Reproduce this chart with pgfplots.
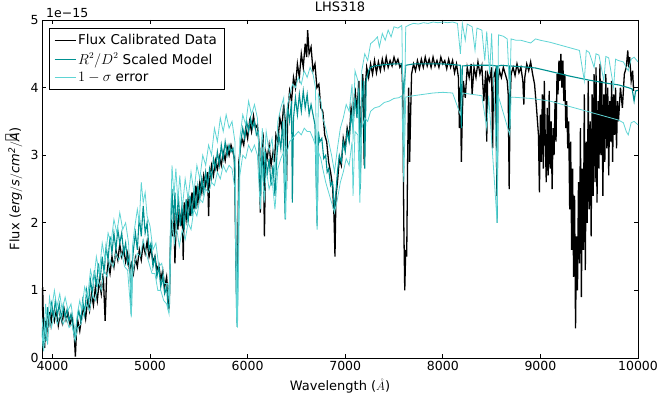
\documentclass[border=0pt]{standalone}
\usepackage{pgfplots}
\pgfplotsset{compat=1.18}
\usepackage{fontspec}
\setmainfont{DejaVu Sans}
\definecolor{modelc}{RGB}{0,145,145}
\definecolor{errc}{RGB}{95,212,212}
\begin{document}
\begin{tikzpicture}[font=\fontsize{13}{15}\selectfont]
\begin{axis}[name=ax, scale only axis, width=596pt, height=338pt,
 xmin=3893, xmax=10000, ymin=0, ymax=5,
 xtick={4000,5000,6000,7000,8000,9000,10000}, ytick={0,1,2,3,4,5},
 scaled x ticks=false, scaled y ticks=false,
 /pgf/number format/assume math mode=true, /pgf/number format/1000 sep={},
 tick label style={font=\fontsize{12.5}{14}\selectfont},
 tick align=inside, major tick length=4pt,
 axis line style={line width=0.8pt}, every tick/.style={black, line width=0.8pt},
 title={LHS318}, title style={at={(axis description cs:0.5,1)}, anchor=south, inner sep=2pt},
 xlabel={Wavelength ($\mathring{A}$)},
 xlabel style={at={(axis description cs:0.5,-0.083)}, anchor=center},
 ylabel={Flux ($\mathit{erg/s/cm^2/\mathring{A}}$)},
 ylabel style={at={(axis description cs:-0.047,0.5)}, anchor=center},
 legend style={at={(axis description cs:0.0117,0.976)}, anchor=north west, draw=black, fill=white,
   font=\fontsize{13.5}{15}\selectfont, row sep=3pt, inner xsep=5pt, inner ysep=4pt, cells={anchor=west}},
 legend image code/.code={\draw[#1, line width=1pt] (0pt,0pt) -- (21pt,0pt);},
]
% Flux calibrated data
\addplot[black, line width=1.3pt] coordinates {
(3893,0.70)(3900,1.05)(3910,0.35)(3920,0.15)(3930,0.55)(3940,0.30)(3950,0.62)(3960,0.45)(3970,0.68)(3985,0.50)
(4000,0.72)(4020,0.55)(4040,0.70)(4060,0.48)(4080,0.66)(4100,0.52)(4120,0.72)(4140,0.56)(4160,0.66)(4180,0.50)
(4200,0.62)(4215,0.45)(4225,0.30)(4235,0.02)(4245,0.35)(4260,0.55)(4280,0.40)(4300,0.62)(4320,0.75)(4340,0.58)
(4360,0.85)(4380,0.70)(4400,0.95)(4420,0.78)(4440,1.05)(4460,0.85)(4480,1.15)(4500,0.95)(4520,1.25)(4540,0.55)
(4555,1.20)(4570,1.40)(4590,1.25)(4610,1.50)(4630,1.35)(4650,1.60)(4670,1.45)(4690,1.68)(4710,1.50)(4730,1.62)
(4750,1.42)(4770,1.55)(4790,1.30)(4810,1.40)(4830,1.25)(4850,1.48)(4870,1.35)(4890,1.60)(4910,1.45)(4930,1.70)
(4950,1.55)(4970,1.72)(4990,1.50)(5010,1.62)(5030,1.42)(5050,1.50)(5070,1.30)(5090,1.38)(5110,1.15)(5130,1.30)
(5150,1.05)(5170,1.20)(5185,0.95)(5195,0.72)(5205,1.40)(5215,2.05)(5230,1.80)(5245,2.15)(5255,1.40)(5270,2.10)
(5285,1.90)(5300,2.20)(5315,1.95)(5330,2.25)(5340,1.45)(5350,2.30)(5370,2.05)(5390,2.35)(5410,2.10)(5430,2.45)
(5450,2.20)(5470,2.55)(5490,2.30)(5510,2.60)(5530,2.45)(5550,2.70)(5570,2.55)(5590,2.75)(5600,2.10)(5610,2.62)
(5630,2.85)(5650,2.70)(5670,2.92)(5690,2.78)(5710,2.98)(5730,2.85)(5750,3.05)(5770,2.92)(5790,3.12)(5810,3.00)
(5830,3.15)(5850,3.05)(5865,2.95)(5880,1.50)(5890,0.80)(5898,1.40)(5910,2.90)(5925,3.10)(5940,3.25)(5960,3.15)
(5980,3.40)(6000,3.25)(6020,3.50)(6040,3.35)(6060,3.58)(6080,3.40)(6100,3.45)(6115,3.20)(6130,2.15)(6140,3.10)
(6160,3.25)(6172,1.80)(6185,3.05)(6200,2.95)(6220,3.15)(6240,2.85)(6260,3.05)(6275,2.90)(6290,3.30)(6310,3.20)
(6330,3.55)(6350,3.40)(6370,3.75)(6385,3.50)(6398,2.50)(6410,3.60)(6430,3.95)(6450,3.80)(6470,4.15)(6490,4.00)
(6510,4.35)(6530,4.15)(6550,4.50)(6570,4.30)(6590,4.65)(6605,4.45)(6615,4.85)(6630,4.50)(6650,4.60)(6670,4.25)
(6690,4.35)(6710,4.00)(6730,4.05)(6750,3.70)(6770,3.65)(6790,3.30)(6810,3.20)(6830,2.90)(6850,2.75)(6870,2.55)
(6885,2.10)(6895,1.50)(6905,2.40)(6920,2.60)(6940,2.95)(6960,2.85)(6980,3.25)(7000,3.10)(7020,3.40)(7040,3.25)
(7060,3.70)(7080,3.50)(7100,4.00)(7120,3.65)(7140,4.10)(7155,2.90)(7165,3.70)(7180,4.20)(7195,2.85)(7205,4.00)
(7220,4.30)(7240,4.15)(7260,4.35)(7280,4.20)(7300,4.40)(7320,4.22)(7340,4.38)(7360,4.25)(7380,4.42)(7400,4.28)
(7420,4.45)(7440,4.30)(7460,4.40)(7480,4.32)(7500,4.45)(7520,4.35)(7540,4.42)(7560,4.30)(7580,4.35)(7590,3.90)
(7600,2.00)(7610,1.00)(7620,1.60)(7630,1.50)(7640,3.00)(7650,4.00)(7660,2.90)(7670,3.60)(7680,4.20)(7700,4.35)
(7720,4.25)(7740,4.40)(7760,4.28)(7780,4.42)(7800,4.30)(7820,4.45)(7840,4.32)(7860,4.42)(7880,4.30)(7900,4.45)
(7920,4.32)(7940,4.40)(7960,4.30)(7980,4.45)(8000,4.35)(8020,4.40)(8040,4.28)(8060,4.42)(8080,4.30)(8100,4.40)
(8120,4.22)(8140,4.35)(8160,4.15)(8170,3.40)(8180,4.00)(8190,2.90)(8200,3.60)(8210,4.10)(8230,3.85)(8250,4.30)
(8270,4.15)(8290,4.35)(8300,3.90)(8320,4.30)(8340,4.15)(8360,4.38)(8380,4.20)(8400,4.32)(8420,3.80)(8440,4.25)
(8450,3.20)(8460,4.20)(8480,4.10)(8500,4.30)(8510,3.10)(8520,4.15)(8540,4.25)(8555,2.40)(8565,4.10)(8580,4.25)
(8600,4.15)(8620,4.30)(8640,4.20)(8660,4.10)(8670,3.90)(8680,2.50)(8690,3.80)(8700,4.20)(8720,4.30)(8740,4.18)
(8760,4.35)(8780,4.22)(8800,4.30)(8820,4.10)(8830,3.75)(8840,4.15)(8860,4.35)(8880,4.25)(8900,4.38)(8920,4.20)
(8940,4.05)(8960,3.70)(8980,3.30)(8990,2.45)(9000,3.60)(9010,2.90)(9020,3.90)(9030,2.80)(9040,4.10)(9050,3.20)
(9060,2.60)(9070,3.70)(9080,2.70)(9090,3.95)(9100,2.80)(9110,3.50)(9120,2.50)(9130,3.40)(9140,3.00)(9150,3.80)
(9160,3.20)(9170,4.20)(9180,3.90)(9190,4.40)(9200,4.10)(9210,4.50)(9220,4.00)(9230,4.40)(9240,3.80)(9250,4.20)
(9260,3.40)(9270,3.80)(9280,3.10)(9290,3.50)(9300,2.20)(9310,3.20)(9320,1.60)(9330,2.80)(9340,1.20)(9350,2.40)
(9360,0.44)(9370,1.80)(9380,1.00)(9390,2.60)(9400,1.40)(9410,3.40)(9420,0.90)(9430,2.80)(9440,1.60)(9450,3.90)
(9460,1.30)(9470,3.20)(9480,2.00)(9490,4.10)(9500,2.20)(9510,3.50)(9520,1.80)(9530,3.90)(9540,2.40)(9550,4.20)
(9560,2.60)(9570,4.30)(9580,2.30)(9590,3.80)(9600,2.80)(9610,4.35)(9620,3.00)(9630,4.10)(9640,2.40)(9650,3.90)
(9660,2.90)(9670,4.20)(9680,3.10)(9690,4.00)(9700,2.70)(9710,3.80)(9720,3.20)(9730,4.10)(9740,2.90)(9750,3.90)
(9760,3.30)(9770,4.00)(9780,3.10)(9790,3.80)(9800,3.50)(9820,4.00)(9840,3.70)(9860,4.20)(9880,4.30)(9895,4.55)
(9905,4.30)(9915,4.45)(9930,4.10)(9945,4.25)(9955,3.95)
};
% scaled model
\addplot[modelc, line width=1.1pt] coordinates {
(3893,0.45)(3905,0.15)(3920,0.60)(3935,0.25)(3950,0.75)(3970,0.55)(3990,0.80)(4010,0.60)(4030,0.85)(4050,0.62)
(4070,0.80)(4090,0.58)(4110,0.78)(4130,0.60)(4150,0.72)(4170,0.55)(4190,0.65)(4210,0.45)(4232,0.30)(4250,0.55)
(4270,0.70)(4290,0.55)(4310,0.85)(4330,0.65)(4350,1.00)(4370,0.80)(4390,1.15)(4410,0.95)(4430,1.30)(4450,1.05)
(4470,1.40)(4490,1.15)(4510,1.50)(4530,1.25)(4550,1.65)(4570,1.45)(4590,1.80)(4610,1.55)(4630,1.85)(4650,1.60)
(4670,1.90)(4690,1.70)(4710,1.85)(4730,1.55)(4750,1.70)(4770,1.40)(4790,1.50)(4808,0.65)(4818,1.40)(4830,1.60)
(4850,1.85)(4870,1.60)(4890,2.10)(4910,1.80)(4930,2.25)(4950,1.85)(4970,2.00)(4990,1.60)(5010,1.70)(5030,1.35)
(5050,1.50)(5070,1.20)(5090,1.35)(5110,1.05)(5130,1.20)(5150,0.95)(5170,1.05)(5185,0.75)(5200,0.80)(5210,1.80)
(5225,2.50)(5240,2.00)(5255,2.45)(5270,1.90)(5290,2.40)(5310,1.95)(5330,2.30)(5350,1.90)(5370,2.35)(5390,2.00)
(5410,2.40)(5430,2.10)(5450,2.50)(5470,2.20)(5490,2.55)(5510,2.35)(5530,2.65)(5550,2.45)(5570,2.75)(5590,2.55)
(5610,2.80)(5630,2.65)(5650,2.95)(5670,2.80)(5690,3.05)(5710,2.85)(5730,3.15)(5750,2.95)(5770,3.20)(5790,3.00)
(5810,3.15)(5830,3.05)(5850,3.10)(5870,2.80)(5885,0.80)(5893,0.46)(5900,1.50)(5915,2.90)(5930,3.20)(5950,3.40)
(5970,3.25)(5990,3.50)(6010,3.35)(6030,3.55)(6050,3.40)(6070,3.50)(6090,3.30)(6110,3.35)(6130,2.40)(6145,3.10)
(6165,2.60)(6180,3.05)(6200,2.70)(6220,2.95)(6240,2.55)(6260,2.85)(6280,2.40)(6300,3.00)(6320,3.30)(6340,3.10)
(6360,3.50)(6385,2.05)(6395,3.40)(6410,3.70)(6430,3.50)(6450,3.80)(6458,2.30)(6470,3.55)(6490,3.85)(6510,3.60)
(6530,3.90)(6550,3.65)(6570,3.95)(6590,3.70)(6610,3.90)(6630,3.60)(6650,3.75)(6670,3.60)(6690,3.45)(6712,1.95)
(6725,3.35)(6740,3.20)(6760,3.25)(6780,2.95)(6800,3.00)(6815,2.75)(6830,2.80)(6850,2.55)(6870,2.60)(6890,2.20)
(6905,2.45)(6920,2.75)(6940,3.00)(6960,2.90)(6980,3.20)(7000,3.05)(7020,3.35)(7040,3.20)(7060,3.60)(7080,3.40)
(7100,3.85)(7120,3.55)(7140,4.00)(7155,2.50)(7170,3.80)(7190,4.10)(7200,2.80)(7215,4.10)(7240,4.25)(7260,4.30)
(7300,4.32)(7400,4.34)(7500,4.35)(7580,4.35)(7600,3.90)(7620,4.33)(7700,4.35)(7800,4.35)(7900,4.35)(8000,4.35)
(8100,4.34)(8180,4.33)(8190,3.40)(8200,4.32)(8300,4.33)(8400,4.33)(8500,4.33)(8550,4.32)(8557,2.00)(8565,4.32)
(8600,4.33)(8680,4.32)(8686,3.40)(8692,4.32)(8800,4.31)(8950,4.29)(9100,4.24)(9300,4.17)(9500,4.11)(9700,4.06)
(9800,4.04)(9900,4.00)(9940,3.98)(9960,3.80)(9975,3.95)(10000,3.96)
};
% upper 1-sigma
\addplot[errc, line width=0.8pt] coordinates {
(3893,0.60)(3910,0.25)(3930,0.80)(3950,0.45)(3970,0.90)(3990,0.70)(4020,1.00)(4045,0.75)(4075,0.95)(4100,0.70)
(4130,0.90)(4160,0.70)(4190,0.80)(4215,0.55)(4235,0.35)(4255,0.65)(4280,0.85)(4300,0.70)(4330,1.05)(4360,0.90)
(4390,1.30)(4420,1.10)(4450,1.50)(4480,1.25)(4510,1.70)(4540,1.45)(4570,1.85)(4600,1.70)(4630,2.05)(4660,1.85)
(4690,2.15)(4720,1.90)(4750,2.00)(4780,1.70)(4808,0.80)(4820,1.65)(4840,1.90)(4870,2.20)(4890,2.00)(4910,2.60)
(4930,2.30)(4950,2.45)(4970,2.10)(5000,1.95)(5030,1.60)(5060,1.70)(5090,1.35)(5120,1.40)(5150,1.10)(5180,1.10)
(5195,0.85)(5210,2.00)(5225,2.85)(5245,2.40)(5265,2.80)(5285,2.30)(5305,2.70)(5330,2.20)(5360,2.65)(5390,2.35)
(5420,2.75)(5450,2.45)(5480,2.85)(5510,2.65)(5540,3.00)(5570,2.85)(5600,3.15)(5630,3.00)(5660,3.40)(5690,3.20)
(5720,3.55)(5750,3.35)(5780,3.60)(5810,3.40)(5840,3.50)(5870,3.20)(5888,0.90)(5896,0.60)(5905,2.00)(5920,3.25)
(5950,3.60)(5980,3.45)(6010,3.80)(6040,3.60)(6070,3.75)(6100,3.55)(6130,2.70)(6150,3.40)(6170,2.90)(6190,3.35)
(6220,3.05)(6250,3.25)(6280,2.70)(6310,3.50)(6340,3.70)(6370,3.85)(6390,2.60)(6405,3.70)(6430,3.90)(6460,4.05)
(6490,4.00)(6520,4.15)(6550,4.05)(6580,4.25)(6610,4.15)(6640,4.30)(6670,4.20)(6695,4.00)(6712,2.40)(6725,3.90)
(6750,3.80)(6770,3.55)(6800,3.40)(6830,3.20)(6860,3.00)(6890,2.75)(6920,3.10)(6950,3.40)(6980,3.55)(7010,3.75)
(7040,3.65)(7070,4.05)(7080,3.20)(7100,4.25)(7130,4.10)(7150,2.60)(7170,4.25)(7200,4.50)(7230,4.40)(7260,4.65)
(7300,4.70)(7330,4.75)(7350,4.60)(7380,4.80)(7410,4.70)(7440,4.85)(7470,4.75)(7500,4.90)(7540,4.88)(7580,4.92)
(7600,3.00)(7620,4.90)(7660,4.93)(7700,4.95)(7750,4.94)(7800,4.96)(7850,4.95)(7900,4.97)(7950,4.96)(8000,4.97)
(8050,4.96)(8100,4.97)(8150,4.95)(8180,4.50)(8200,4.95)(8230,4.70)(8250,4.94)(8300,4.90)(8330,4.55)(8350,4.88)
(8400,4.85)(8430,4.40)(8450,4.83)(8480,4.20)(8500,4.80)(8557,2.70)(8570,4.78)(8620,4.76)(8660,4.72)(8686,3.90)
(8700,4.72)(8750,4.70)(8800,4.70)(8850,4.68)(8900,4.66)(8950,4.72)(9000,4.70)(9100,4.67)(9200,4.63)(9300,4.59)
(9400,4.55)(9450,4.10)(9470,4.55)(9500,4.52)(9550,4.30)(9570,4.50)(9600,4.48)(9650,4.10)(9670,4.46)(9700,4.44)
(9750,4.00)(9770,4.42)(9800,4.40)(9850,4.38)(9880,4.30)(9900,4.25)(9930,4.42)(9960,4.45)(10000,4.38)
};
% lower 1-sigma
\addplot[errc, line width=0.8pt, forget plot] coordinates {
(3893,0.35)(3910,0.10)(3930,0.45)(3950,0.20)(3970,0.60)(3990,0.45)(4020,0.65)(4050,0.50)(4080,0.65)(4110,0.50)
(4140,0.60)(4170,0.45)(4200,0.50)(4232,0.25)(4260,0.45)(4290,0.50)(4320,0.65)(4350,0.80)(4380,0.70)(4410,0.95)
(4440,0.85)(4470,1.15)(4500,1.00)(4530,1.30)(4560,1.20)(4590,1.45)(4620,1.35)(4650,1.55)(4680,1.45)(4710,1.55)
(4740,1.35)(4770,1.30)(4808,0.60)(4820,1.20)(4840,1.40)(4870,1.55)(4900,1.50)(4930,1.75)(4960,1.55)(4990,1.40)
(5020,1.25)(5050,1.25)(5080,1.00)(5110,1.00)(5140,0.85)(5170,0.80)(5195,0.65)(5210,1.50)(5230,2.00)(5250,1.70)
(5270,1.95)(5300,1.65)(5330,1.90)(5360,1.75)(5390,2.00)(5420,1.90)(5450,2.20)(5480,2.10)(5510,2.35)(5540,2.30)
(5570,2.50)(5600,2.45)(5630,2.60)(5660,2.55)(5690,2.75)(5720,2.65)(5750,2.85)(5780,2.75)(5810,2.85)(5840,2.80)
(5870,2.50)(5888,0.55)(5896,0.45)(5905,1.20)(5920,2.70)(5950,3.00)(5980,2.95)(6010,3.15)(6040,3.05)(6070,3.15)
(6100,3.00)(6130,2.20)(6150,2.85)(6170,2.30)(6190,2.80)(6220,2.50)(6250,2.65)(6280,2.20)(6310,2.80)(6340,2.95)
(6370,3.05)(6390,2.05)(6405,3.05)(6430,3.20)(6460,3.25)(6490,3.30)(6520,3.35)(6550,3.30)(6580,3.40)(6610,3.35)
(6640,3.35)(6670,3.25)(6695,3.15)(6712,1.90)(6725,3.05)(6750,2.95)(6770,2.80)(6800,2.60)(6830,2.45)(6860,2.30)
(6890,2.15)(6920,2.35)(6950,2.60)(6980,2.75)(7010,2.95)(7040,2.85)(7070,3.20)(7080,2.40)(7100,3.35)(7130,3.30)
(7150,2.30)(7170,3.40)(7200,3.55)(7230,3.50)(7260,3.65)(7300,3.70)(7350,3.72)(7400,3.78)(7450,3.80)(7500,3.84)
(7550,3.85)(7580,3.88)(7600,2.60)(7620,3.86)(7700,3.88)(7800,3.90)(7900,3.92)(8000,3.93)(8100,3.92)(8180,3.60)
(8200,3.92)(8300,3.90)(8400,3.88)(8450,3.40)(8470,3.88)(8557,2.00)(8570,3.87)(8686,3.30)(8700,3.86)(8800,3.85)
(8900,3.84)(9000,3.82)(9100,3.80)(9200,3.76)(9300,3.72)(9400,3.68)(9500,3.64)(9600,3.60)(9700,3.56)(9800,3.52)
(9850,3.48)(9880,3.35)(9900,3.30)(9930,3.48)(9960,3.50)(10000,3.45)
};
\legend{Flux Calibrated Data, $R^2/D^2$ Scaled Model, $1-\sigma$ error}
\end{axis}
\node[anchor=south west, font=\fontsize{12.5}{14}\selectfont, inner sep=1pt] at ([xshift=3pt,yshift=1pt]ax.north west) {1e−15};
\pgfresetboundingbox
\path[use as bounding box] ([xshift=-42pt,yshift=-43pt]ax.south west) rectangle ([xshift=25pt,yshift=20pt]ax.north east);
\end{tikzpicture}
\end{document}
